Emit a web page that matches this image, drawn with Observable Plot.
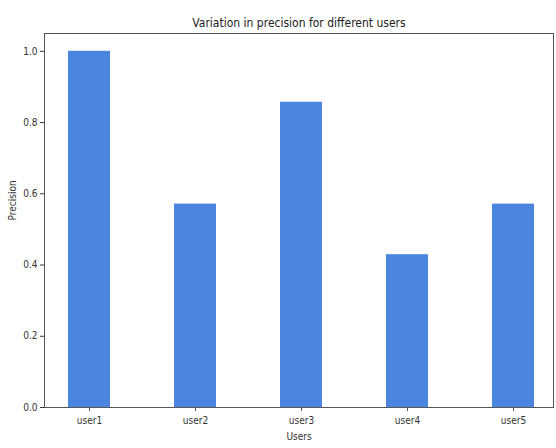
<!DOCTYPE html>
<html>
<head>
<meta charset="utf-8">
<script src="https://cdn.jsdelivr.net/npm/d3@7"></script>
<script src="https://cdn.jsdelivr.net/npm/@observablehq/plot@0.6"></script>
<style>
  html, body { margin: 0; padding: 0; background: #fff; }
</style>
</head>
<body>
<div id="chart"></div>
<script>
const users = ["user1", "user2", "user3", "user4", "user5"];
const precision = [1.0, 0.571, 0.857, 0.429, 0.571];
const yTicks = [0, 0.2, 0.4, 0.6, 0.8, 1.0];
const title = "Variation in precision for different users";
const xLabel = "Users";
const yLabel = "Precision";

const data = users.map((u, i) => ({user: u, precision: precision[i]}));

const chart = Plot.plot({
  width: 556,
  height: 448,
  marginLeft: 44,
  marginRight: 3,
  marginTop: 33,
  marginBottom: 41,
  style: {fontFamily: "'DejaVu Sans Condensed', 'DejaVu Sans', sans-serif", fontSize: "10px", color: "#333", background: "#fff"},
  x: {domain: users, range: [44, 559], paddingInner: 0.6, paddingOuter: 0.212, label: null},
  y: {domain: [0, 1.05], label: null},
  marks: [
    Plot.barY(data, {x: "user", y: "precision", fill: "#4a86e0"}),
    Plot.frame({stroke: "#555"}),
    Plot.axisX({tickSize: 4, tickPadding: 5, label: null, stroke: "#555"}),
    Plot.axisY({ticks: yTicks, tickFormat: ".1f", tickSize: 4, tickPadding: 3, label: null}),
    Plot.text([title], {frameAnchor: "top", dy: -15, fontSize: 12, fill: "#222"}),
    Plot.text([xLabel], {frameAnchor: "bottom", dy: 32, fontSize: 10, fill: "#333"}),
    Plot.text([yLabel], {frameAnchor: "left", dx: -32, rotate: -90, fontSize: 10, fill: "#333"})
  ]
});
document.getElementById("chart").appendChild(chart);
</script>
</body>
</html>
